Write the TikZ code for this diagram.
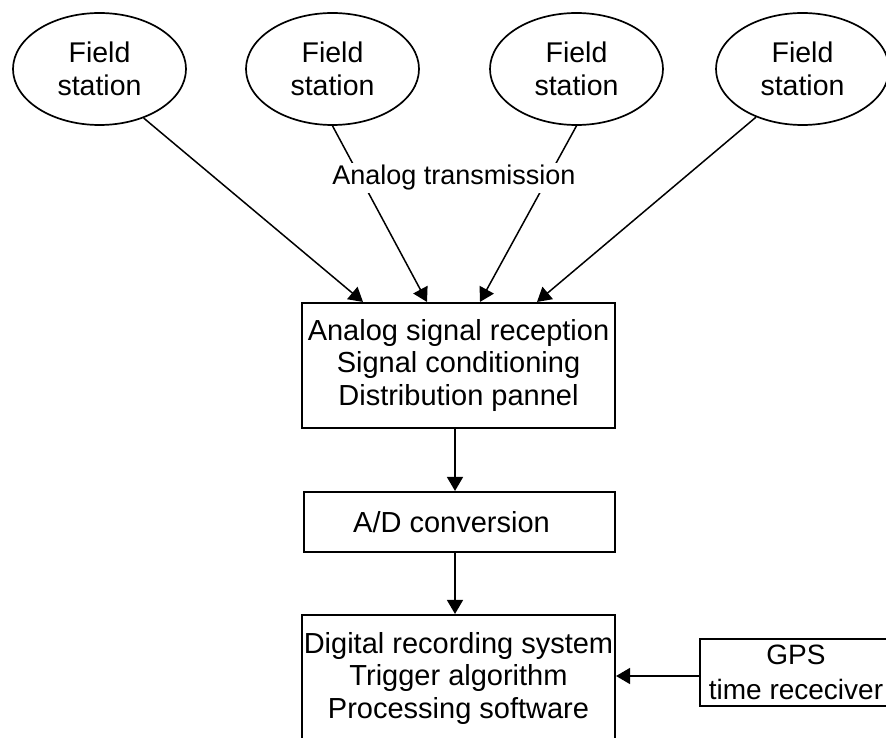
\documentclass[tikz,border=0pt]{standalone}
\usepackage{fontspec}
\setmainfont{Liberation Sans}
\usetikzlibrary{shapes.geometric,arrows.meta}
\begin{document}
\begin{tikzpicture}[x=1pt,y=-1pt,
  station/.style={draw, ellipse, line width=1.7pt, minimum width=173pt,
    minimum height=112pt, inner sep=0pt, align=center,
    font=\fontsize{28.5}{33}\selectfont},
  block/.style={draw, rectangle, line width=1.7pt, inner sep=0pt,
    align=center, font=\fontsize{29}{32.5}\selectfont},
  arr/.style={line width=1.5pt, -{Triangle[length=14pt,width=16pt]}},
  lbl/.style={fill=white, inner sep=2pt, font=\fontsize{27}{30}\selectfont}]
\useasboundingbox (0,0) rectangle (886,738);
\clip (0,0) rectangle (886,738);

% field stations
\node[station] (e1) at (99.5,69)  {Field\\station};
\node[station] (e2) at (332.5,69) {Field\\station};
\node[station] (e3) at (576.5,69) {Field\\station};
\node[station] (e4) at (802.5,69) {Field\\station};

% processing chain
\node[block, minimum width=313.4pt, minimum height=125.4pt] (rx) at (458.5,365.5)
  {Analog signal reception\\Signal conditioning\\Distribution pannel};
\node[block, minimum width=311.4pt, minimum height=60.4pt] (ad) at (459.5,522)
  {\hspace*{-16pt}A/D conversion};
\node[block, minimum width=313.4pt, minimum height=126.4pt] (dig) at (458.5,678)
  {Digital recording system\\Trigger algorithm\\Processing software};
\node[block, minimum width=192.4pt, minimum height=67.4pt,
  font=\fontsize{28}{35}\selectfont] (gps) at (796,672.5)
  {GPS\\time receciver};

% analog links
\draw[arr] (e1.-48)   -- (rx.north -| 363,0);
\draw[arr] (e2.south) -- (rx.north -| 427,0);
\draw[arr] (e3.south) -- (rx.north -| 480,0);
\draw[arr] (e4.-134)  -- (rx.north -| 537,0);
\node[lbl] (tx) at (454,178) {Analog transmission};

% digital chain
\draw[arr] ([xshift=-3.5pt]rx.south) -- ([xshift=-4.5pt]ad.north);
\draw[arr] ([xshift=-4.5pt]ad.south) -- ([xshift=-3.5pt]dig.north);
\draw[arr] ([yshift=-3.5pt]gps.west) coordinate (g) -- (g -| dig.east);
\end{tikzpicture}
\end{document}
